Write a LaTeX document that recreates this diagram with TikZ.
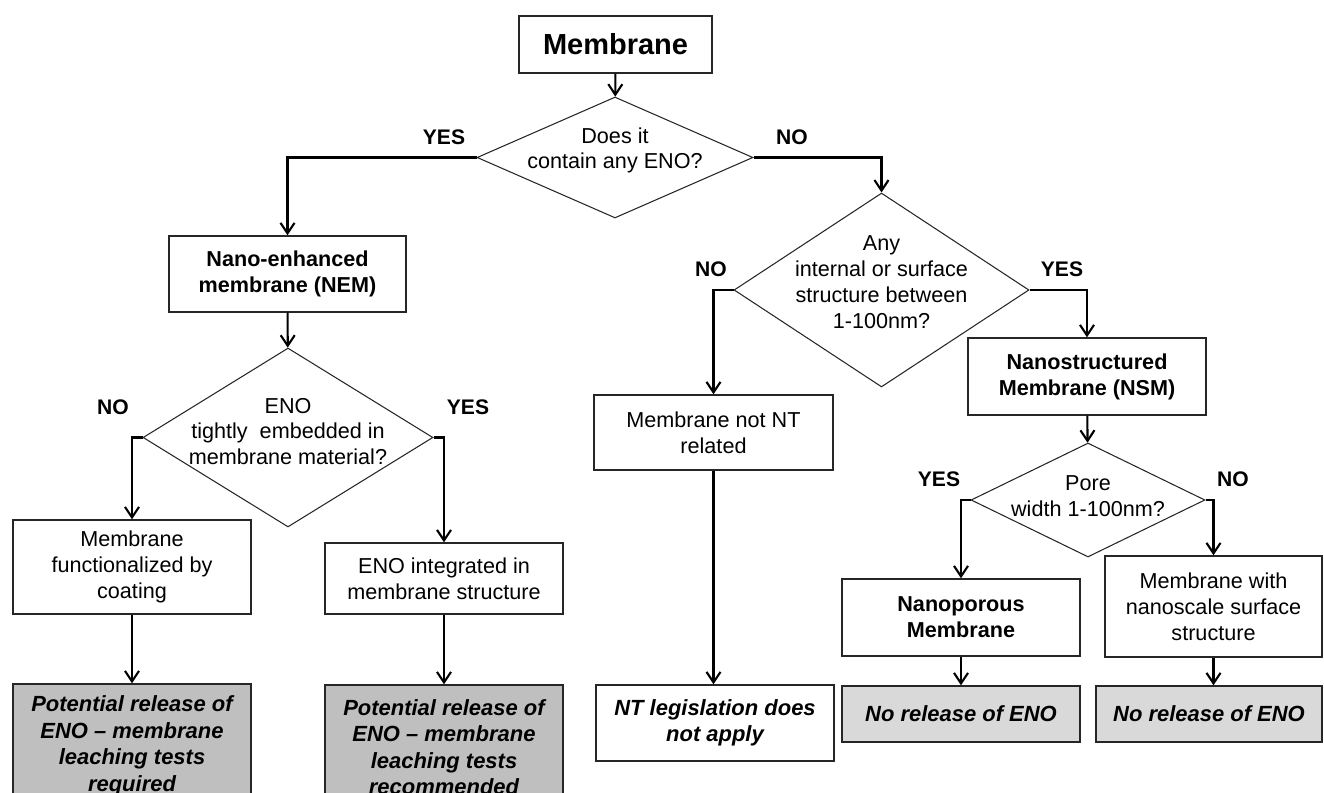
\documentclass[tikz,border=0pt]{standalone}
\usepackage{fontspec}
\setmainfont{Liberation Sans}
\usetikzlibrary{arrows.meta, positioning, shapes.geometric}
\definecolor{relgrey}{RGB}{191,191,191}
\definecolor{nogrey}{RGB}{217,217,217}
\tikzset{
  box/.style={draw=black!85, line width=0.8pt, fill=white, align=center, inner sep=2pt,
    font=\fontsize{12.3}{14.7}\selectfont},
  boldbox/.style={box, font=\fontsize{12.3}{14.7}\selectfont\bfseries},
  endbox/.style={box, fill=#1, font=\fontsize{12.5}{15.1}\selectfont\bfseries\itshape},
  dia/.style={draw=black!85, diamond, line width=0.6pt, inner sep=0pt},
  qtxt/.style={align=center, inner sep=0pt, font=\fontsize{12.3}{14.7}\selectfont},
  yn/.style={inner sep=0pt, font=\fontsize{12}{14}\selectfont\bfseries},
  arr/.style={-{Straight Barb[length=6pt, width=8pt]}, line width=1.2pt},
}

\begin{document}
\begin{tikzpicture}[x=0.02cm, y=-0.02cm]
  \useasboundingbox (0,0) rectangle (1324,793);
  \clip (0,0) rectangle (1324,793);

  % top
  \node[boldbox, minimum width=3.86cm, minimum height=1.14cm,
    font=\fontsize{16.5}{19}\selectfont\bfseries] (mem) at (615.5,44.5) {Membrane};
  \node[dia, minimum width=5.52cm, minimum height=2.42cm] (q1) at (615,157.5) {};
  \node[qtxt] (q1t) at ([yshift=0.14cm]q1.center) {Does it\\contain any ENO?};
  \node[yn] (yes1) at (444,137) {YES};
  \node[yn] (no1) at (792,137) {NO};

  % left branch (NEM)
  \node[boldbox, minimum width=4.74cm, minimum height=1.52cm] (nem) at (287.5,274)
    {Nano-enhanced\\membrane (NEM)};
  \node[dia, minimum width=5.80cm, minimum height=3.58cm] (q3) at (288,437.5) {};
  \node[qtxt] (q3t) at ([yshift=0.12cm]q3.center)
    {ENO\\tightly\ \ embedded in\\membrane material?};
  \node[yn] (no3) at (113,407) {NO};
  \node[yn] (yes3) at (468,407) {YES};
  \node[box, minimum width=4.76cm, minimum height=1.88cm] (coat) at (132,567)
    {Membrane\\functionalized by\\coating};
  \node[box, minimum width=4.76cm, minimum height=1.42cm] (integ) at (444,578.5)
    {ENO integrated in\\membrane structure};
  \node[endbox=relgrey, minimum width=4.76cm, minimum height=2.48cm] (rel1) at (132,746)
    {Potential release of\\ENO -- membrane\\leaching tests\\required};
  \node[endbox=relgrey, minimum width=4.76cm, minimum height=2.48cm] (rel2) at (444,747)
    {Potential release of\\ENO -- membrane\\leaching tests\\recommended};

  % right branch
  \node[dia, minimum width=5.90cm, minimum height=3.88cm] (q2) at (881.5,290) {};
  \node[qtxt] (q2t) at ([yshift=0.16cm]q2.center)
    {Any\\internal or surface\\structure between\\1-100nm?};
  \node[yn] (no2) at (711,269) {NO};
  \node[yn] (yes2) at (1062,269) {YES};
  \node[box, minimum width=4.78cm, minimum height=1.50cm] (notnt) at (713.5,432.5)
    {Membrane not NT\\related};
  \node[endbox=white, minimum width=4.76cm, minimum height=1.52cm] (ntleg) at (715,723)
    {NT legislation does\\not apply};
  \node[boldbox, minimum width=4.76cm, minimum height=1.54cm] (nsm) at (1087,376.5)
    {Nanostructured\\Membrane (NSM)};
  \node[dia, minimum width=4.68cm, minimum height=2.28cm] (q4) at (1088,500) {};
  \node[qtxt] (q4t) at ([yshift=0.08cm]q4.center) {Pore\\width 1-100nm?};
  \node[yn] (yes4) at (939,479) {YES};
  \node[yn] (no4) at (1233,479) {NO};
  \node[boldbox, minimum width=4.76cm, minimum height=1.54cm] (npor) at (961,617.5)
    {Nanoporous\\Membrane};
  \node[box, minimum width=4.34cm, minimum height=2.02cm] (nsurf) at (1213.5,606.5)
    {Membrane with\\nanoscale surface\\structure};
  \node[endbox=nogrey, minimum width=4.76cm, minimum height=1.12cm] (norel1) at (961,714)
    {No release of ENO};
  \node[endbox=nogrey, minimum width=4.52cm, minimum height=1.12cm] (norel2) at (1209,714)
    {No release of ENO};

  % connectors
  \draw[arr] (mem) -- (q1);
  \draw[arr] (q1.west) -| (nem.north);
  \draw[arr] (q1.east) -| (q2.north);
  \draw[arr] (nem) -- (q3);
  \draw[arr] (q3.west) -| (coat.north);
  \draw[arr] (q3.east) -| (integ.north);
  \draw[arr] (coat) -- (rel1);
  \draw[arr] (integ) -- (rel2);
  \draw[arr] (q2.west) -| (notnt.north);
  \draw[arr] (q2.east) -| (nsm.north);
  \draw[arr] (notnt.south) -- (notnt.south |- ntleg.north);
  \draw[arr] (nsm) -- (q4);
  \draw[arr] (q4.west) -| (npor.north);
  \draw[arr] (q4.east) -| (nsurf.north);
  \draw[arr] (npor) -- (norel1);
  \draw[arr] (nsurf.south) -- (nsurf.south |- norel2.north);
\end{tikzpicture}
\end{document}
